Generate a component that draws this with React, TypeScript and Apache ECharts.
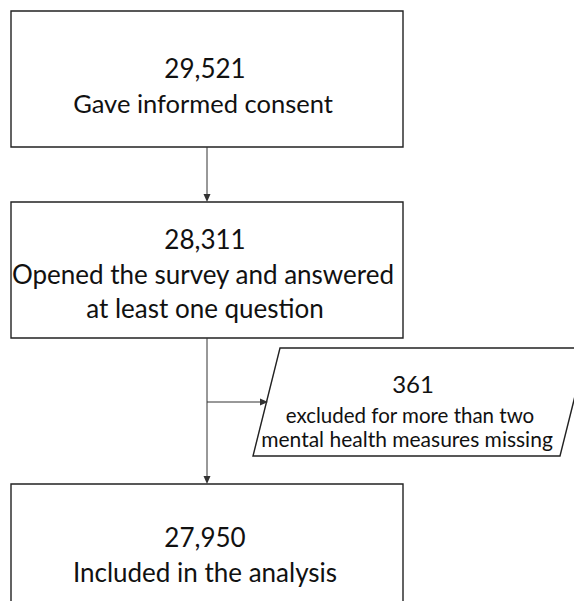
import React, { useEffect, useRef } from "react";
import * as echarts from "echarts";

const counts = [29521, 28311, 361, 27950];
const stepLabels = [
  ["Gave informed consent"],
  ["Opened the survey and answered", "at least one question"],
  ["excluded for more than two", "mental health measures missing"],
  ["Included in the analysis"],
];

const fmt = (n: number) => n.toLocaleString("en-US");
const FONT = "Lato, 'Open Sans', sans-serif";
const TEXT = "#111";
const EDGE = "#222";
const LINE = "#333";

function arrowDown(x: number, y: number) {
  return { type: "polygon", shape: { points: [[x - 3.5, y - 8], [x + 3.5, y - 8], [x, y]] }, style: { fill: LINE } };
}
function arrowRight(x: number, y: number) {
  return { type: "polygon", shape: { points: [[x - 8, y - 3.5], [x - 8, y + 3.5], [x, y]] }, style: { fill: LINE } };
}
function txt(x: number, y: number, s: string, size: number) {
  return {
    type: "text",
    x,
    y,
    style: { text: s, fill: TEXT, font: `${size}px ${FONT}`, textAlign: "center", textVerticalAlign: "middle" },
  };
}

export default function App() {
  const ref = useRef<HTMLDivElement>(null);
  useEffect(() => {
    document.body.style.margin = "0";
    const chart = echarts.init(ref.current!, null, { renderer: "svg" });
    const cx = 207;
    const elements: any[] = [
      // boxes
      { type: "rect", shape: { x: 11, y: 11, width: 392, height: 136 }, style: { fill: "#fff", stroke: EDGE, lineWidth: 1.4 } },
      { type: "rect", shape: { x: 11, y: 202, width: 392, height: 136 }, style: { fill: "#fff", stroke: EDGE, lineWidth: 1.4 } },
      { type: "rect", shape: { x: 11, y: 484, width: 392, height: 140 }, style: { fill: "#fff", stroke: EDGE, lineWidth: 1.4 } },
      {
        type: "polygon",
        shape: { points: [[280, 348], [587, 348], [560, 456], [253, 456]] },
        style: { fill: "#fff", stroke: EDGE, lineWidth: 1.4 },
      },
      // connectors
      { type: "line", shape: { x1: cx, y1: 147, x2: cx, y2: 196 }, style: { stroke: LINE, lineWidth: 1 } },
      arrowDown(cx, 202),
      { type: "line", shape: { x1: cx, y1: 338, x2: cx, y2: 478 }, style: { stroke: LINE, lineWidth: 1 } },
      arrowDown(cx, 484),
      { type: "line", shape: { x1: cx, y1: 402, x2: 262, y2: 402 }, style: { stroke: LINE, lineWidth: 1 } },
      arrowRight(268, 402),
      // texts
      txt(205, 68, fmt(counts[0]), 26),
      txt(203, 103, stepLabels[0][0], 25.5),
      txt(205, 239, fmt(counts[1]), 26),
      txt(203, 274, stepLabels[1][0], 26),
      txt(205, 308, stepLabels[1][1], 26),
      txt(413, 383, fmt(counts[2]), 24),
      txt(410, 415, stepLabels[2][0], 20.5),
      txt(407, 438, stepLabels[2][1], 21),
      txt(205, 537, fmt(counts[3]), 26),
      txt(205, 572, stepLabels[3][0], 26),
    ];
    chart.setOption({ animation: false, graphic: { elements } });
    return () => chart.dispose();
  }, []);
  return <div ref={ref} style={{ position: "absolute", left: 0, top: 0, width: 574, height: 601, background: "#fff" }} />;
}
